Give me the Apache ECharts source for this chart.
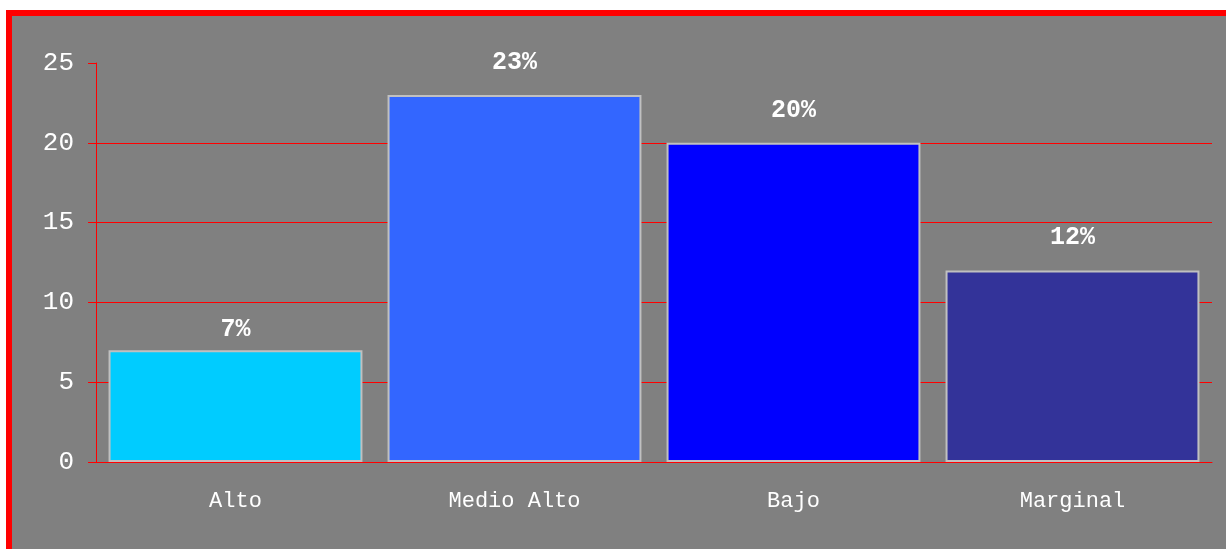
<!DOCTYPE html>
<html>
<head>
<meta charset="utf-8">
<script src="https://cdn.jsdelivr.net/npm/echarts@6/dist/echarts.min.js"></script>
<style>
html, body { margin: 0; padding: 0; background: #fff; }
#wrap {
	position: absolute; left: 6px; top: 10px; width: 1220px; height: 539px;
	border-left: 6px solid #ff0000; border-top: 6px solid #ff0000;
	box-sizing: border-box; background: #808080; overflow: hidden;
}
#chart { width: 1214px; height: 533px; }
</style>
</head>
<body>
<div id="wrap"><div id="chart"></div></div>
<script>
var categories = ['Alto', 'Medio Alto', 'Bajo', 'Marginal']
var values = [7, 23, 20, 12]
var labels = ['7%', '23%', '20%', '12%']
var colors = ['#00ccff', '#3366ff', '#0000ff', '#333399']

var myChart = echarts.init(document.getElementById('chart'))
var options = {
	backgroundColor: '#808080',
	animation: false,
	grid: { left: 84, right: 14, top: 47, bottom: 87 },
	xAxis: {
		type: 'category',
		data: categories,
		axisLine: { lineStyle: { color: '#ff0000', width: 1 } },
		axisTick: { length: 8, lineStyle: { color: '#ff0000' } },
		axisLabel: { color: '#ffffff', fontFamily: 'Liberation Mono', fontSize: 22, margin: 28 }
	},
	yAxis: {
		type: 'value',
		min: 0, max: 25, interval: 5,
		axisLine: { show: true, lineStyle: { color: '#ff0000', width: 1 } },
		axisTick: { show: true, length: 8, lineStyle: { color: '#ff0000' } },
		// no grid line at the top (25)
		splitLine: { show: true, lineStyle: { color: ['#ff0000', '#ff0000', '#ff0000', '#ff0000', '#ff0000', 'rgba(0,0,0,0)'], width: 1 } },
		axisLabel: { color: '#ffffff', fontFamily: 'Liberation Mono', fontSize: 26, margin: 22 }
	},
	series: [{
		type: 'bar',
		barCategoryGap: '9%',
		data: values.map(function (v, i) {
			return {
				value: v,
				itemStyle: { color: colors[i] },
				label: { distance: i === 0 ? 8 : 20 }
			}
		}),
		itemStyle: { borderColor: '#c0c0c0', borderWidth: 2 },
		label: {
			show: true,
			position: 'top',
			color: '#ffffff',
			fontWeight: 'bold',
			fontFamily: 'Liberation Mono',
			fontSize: 25,
			formatter: function (p) { return labels[p.dataIndex] }
		}
	}]
}
myChart.setOption(options)
</script>
</body>
</html>
